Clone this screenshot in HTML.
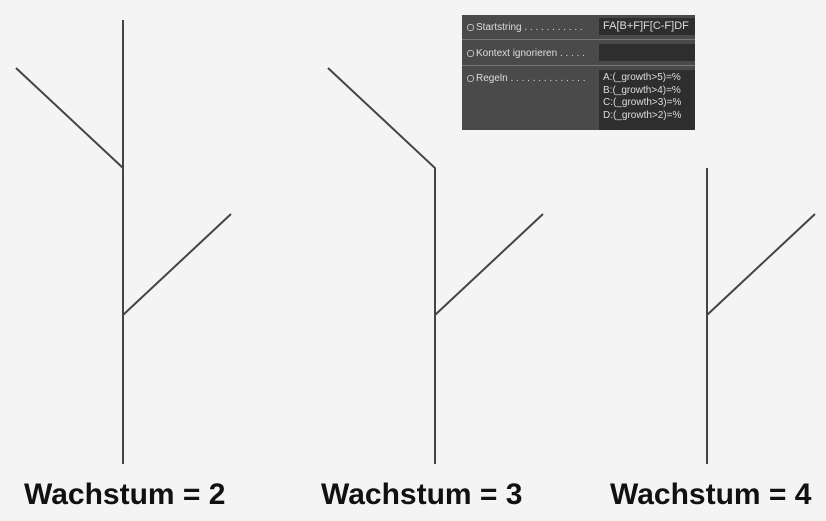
<!DOCTYPE html>
<html><head><style>
body{margin:0;width:826px;height:521px;background:#f4f4f4;overflow:hidden;position:relative;font-family:"Liberation Sans",sans-serif}
.lbl{position:absolute;top:478px;font-weight:bold;font-size:30px;color:#111}
#p{position:absolute;left:462px;top:15px;width:233px;height:115px;background:#4a4a4a;color:#ddd;font-size:10px}
.dot{position:absolute;left:5px;width:5px;height:5px;border:1px solid #bbb;border-radius:3px}
.t{position:absolute;left:14px}
.f{position:absolute;left:137px;width:96px;background:#2e2e2e;color:#ddd;padding-left:4px;box-sizing:border-box}
.sep{position:absolute;left:0;width:233px;height:1px;background:#777}
</style></head><body>
<svg width="826" height="521" style="position:absolute;left:0;top:0" stroke="#444" stroke-width="2" fill="none">
<line x1="123" y1="20" x2="123" y2="464"/>
<line x1="16" y1="68" x2="123" y2="168"/>
<line x1="123" y1="315" x2="231" y2="214"/>
<polyline points="328,68 435,168 435,464"/>
<line x1="435" y1="315" x2="543" y2="214"/>
<line x1="707" y1="168" x2="707" y2="464"/>
<line x1="707" y1="315" x2="815" y2="214"/>
</svg>
<div id="p">
<div class="dot" style="top:9px"></div><div class="t" style="top:7px">Startstring . . . . . . . . . . .</div>
<div class="f" style="top:3px;height:17px;line-height:17px;font-size:11px">FA[B+F]F[C-F]DF</div>
<div class="sep" style="top:24px"></div>
<div class="dot" style="top:35px"></div><div class="t" style="top:33px">Kontext ignorieren . . . . .</div>
<div class="f" style="top:29px;height:17px"></div>
<div class="sep" style="top:50px"></div>
<div class="dot" style="top:60px"></div><div class="t" style="top:58px">Regeln . . . . . . . . . . . . . .</div>
<div class="f" style="top:55px;height:60px;line-height:12.5px;padding-top:2px">A:(_growth&gt;5)=%<br>B:(_growth&gt;4)=%<br>C:(_growth&gt;3)=%<br>D:(_growth&gt;2)=%</div>
</div>
<div class="lbl" style="left:24px">Wachstum = 2</div>
<div class="lbl" style="left:321px">Wachstum = 3</div>
<div class="lbl" style="left:610px">Wachstum = 4</div>
</body></html>
